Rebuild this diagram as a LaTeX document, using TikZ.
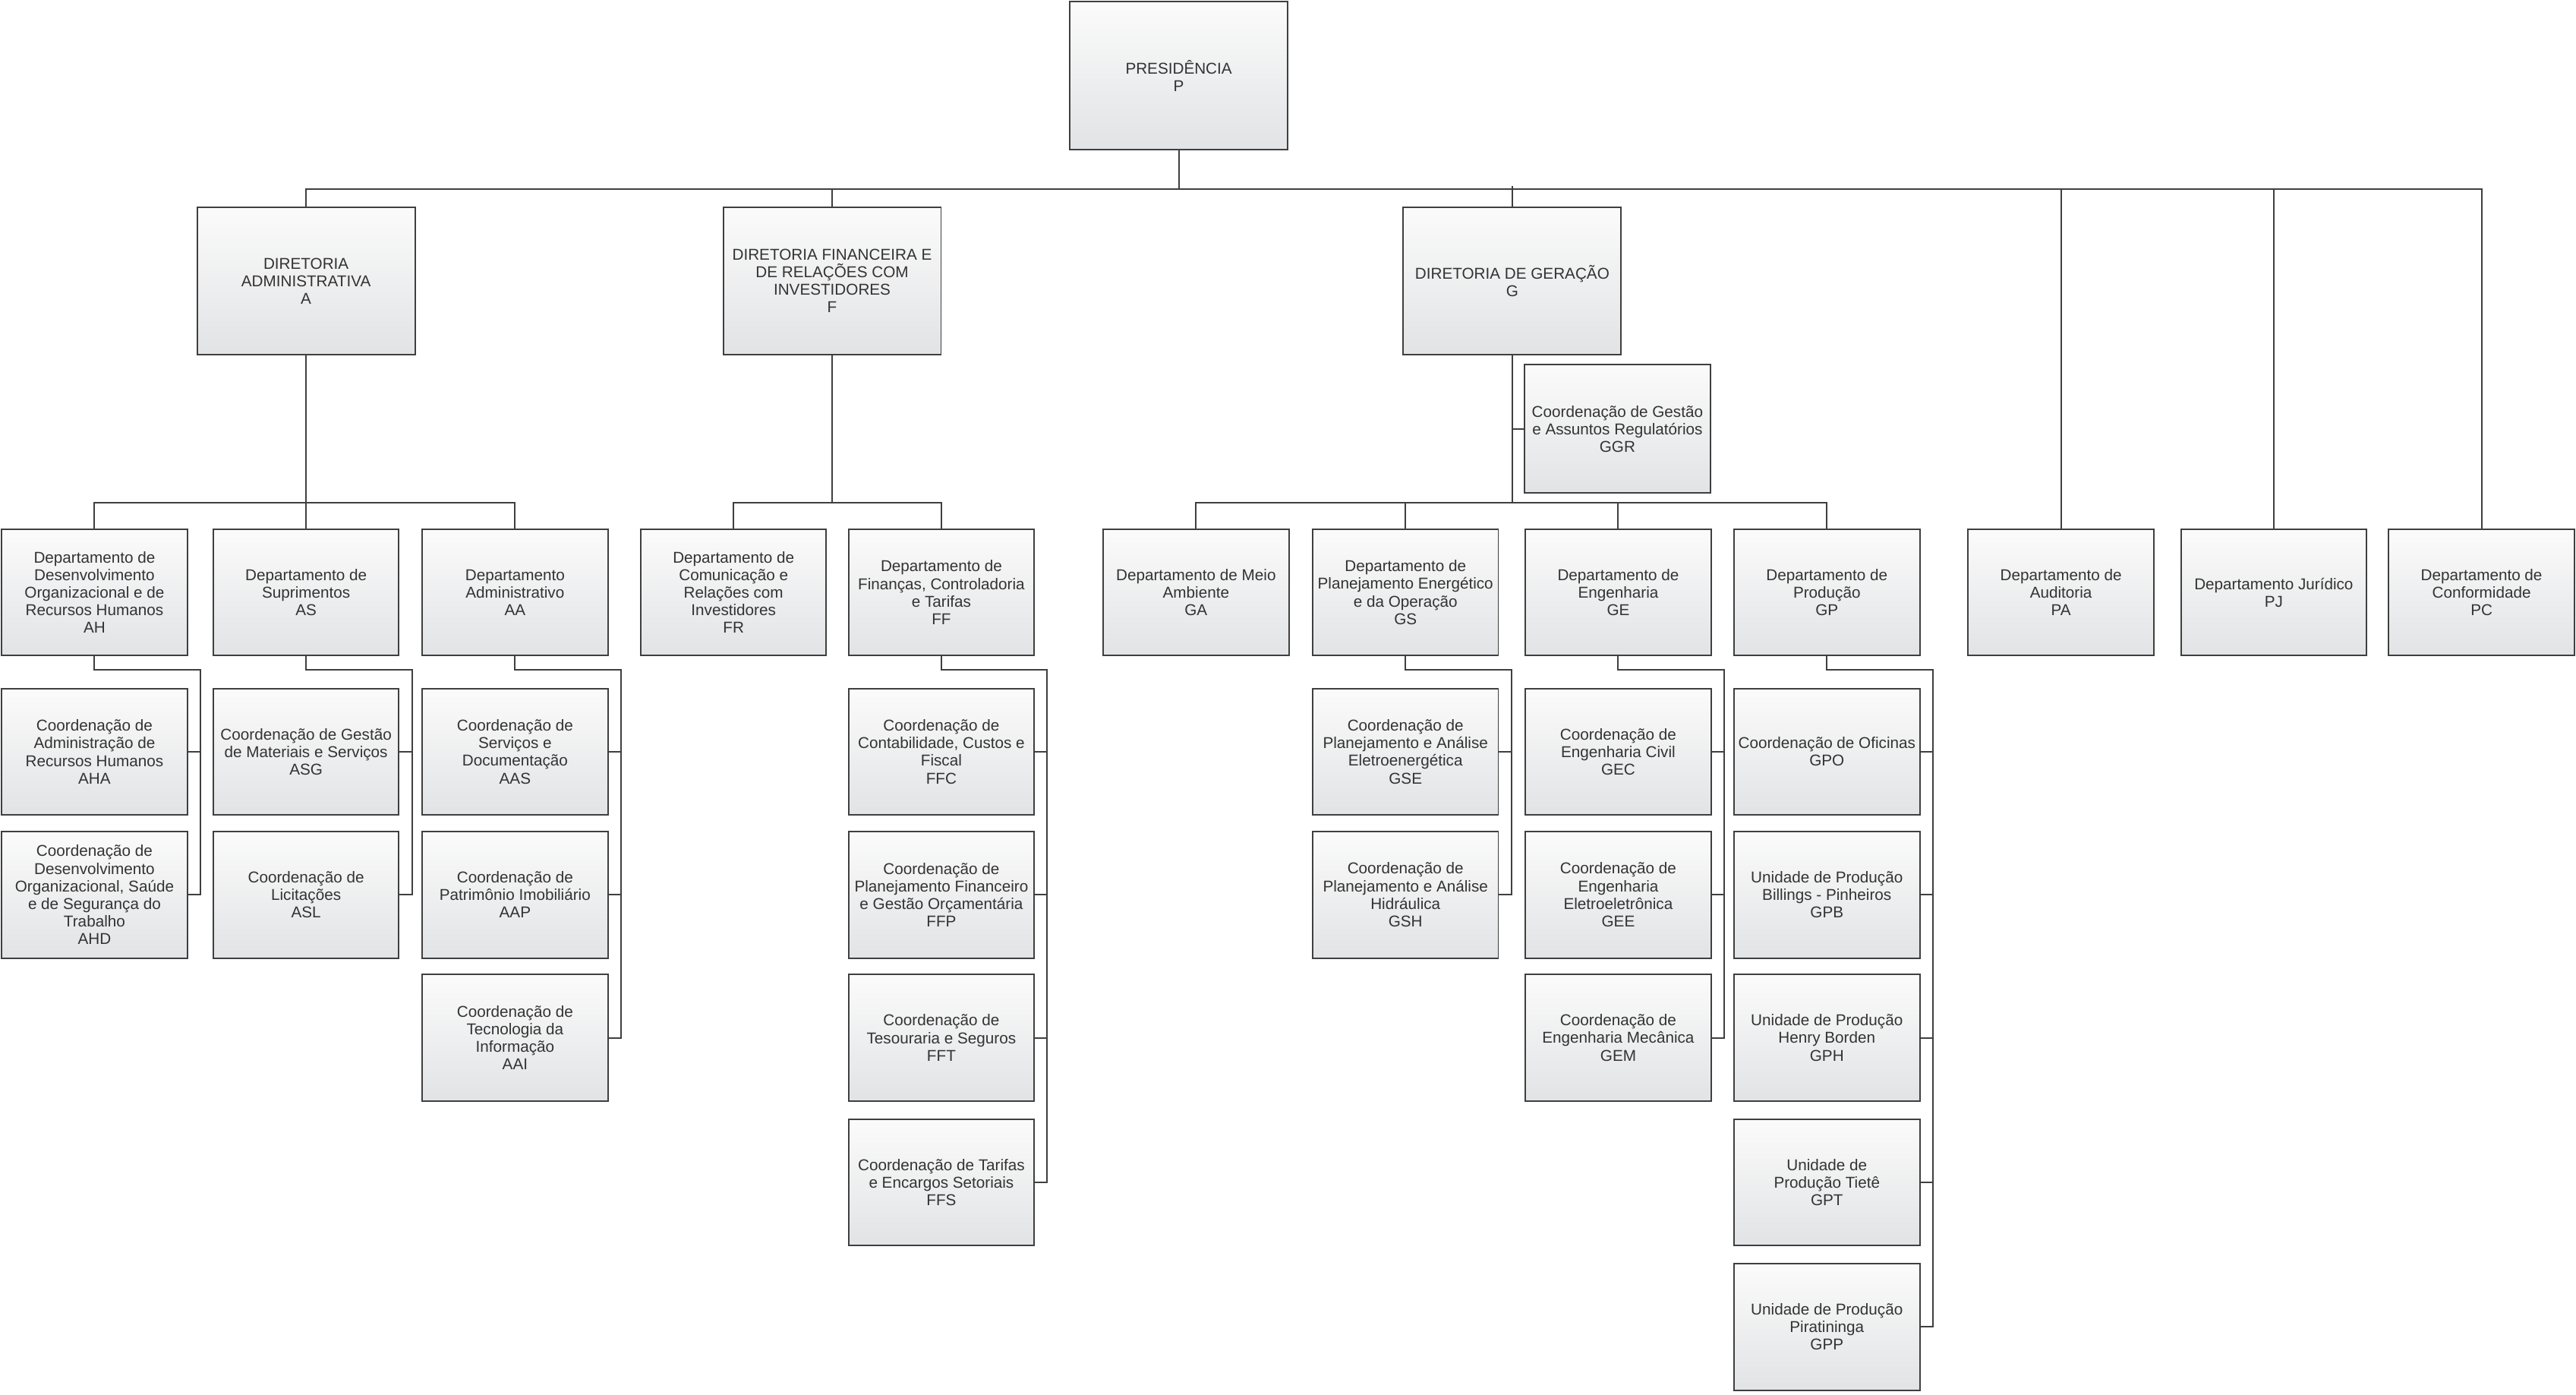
\documentclass[tikz,border=0pt]{standalone}
\usepackage{fontspec}
\setmainfont{Liberation Sans}
\usetikzlibrary{calc}

\definecolor{boxtop}{HTML}{FBFBFB}
\definecolor{boxbot}{HTML}{E2E3E5}
\definecolor{boxline}{HTML}{3F3F3F}
\definecolor{boxtext}{HTML}{333333}

\begin{document}
\begin{tikzpicture}[x=0.05cm, y=-0.05cm,
	box/.style = {draw=boxline, line width=1.3pt, top color=boxtop, bottom color=boxbot,
		minimum width=5.65cm, minimum height=3.85cm, inner sep=0pt, align=center,
		text=boxtext, font=\fontsize{13.6}{15.2}\selectfont},
	dir/.style = {box, minimum width=6.63cm, minimum height=4.5cm},
	link/.style = {draw=boxline, line width=1.3pt}]
	\useasboundingbox (0, 0) rectangle (1568, 848.5);

	\node[dir] (P) at (717.5, 46) {PRESIDÊNCIA\\P};

	\node[dir] (A) at (186.3, 171) {DIRETORIA\\ADMINISTRATIVA\\A};
	\node[dir] (F) at (506.5, 171) {DIRETORIA FINANCEIRA E\\DE RELAÇÕES COM\\INVESTIDORES\\F};
	\node[dir] (G) at (920.5, 171) {DIRETORIA DE GERAÇÃO\\G};

	\node[box, minimum height=3.9cm] (GGR) at (984.5, 261) {Coordenação de Gestão\\e Assuntos Regulatórios\\GGR};

	\node[box] (AH) at (57.5, 360.5) {Departamento de\\Desenvolvimento\\Organizacional e de\\Recursos Humanos\\AH};
	\node[box] (AS) at (186.3, 360.5) {Departamento de\\Suprimentos\\AS};
	\node[box] (AA) at (313.5, 360.5) {Departamento\\Administrativo\\AA};
	\node[box] (FR) at (446.5, 360.5) {Departamento de\\Comunicação e\\Relações com\\Investidores\\FR};
	\node[box] (FF) at (573, 360.5) {Departamento de\\Finanças, Controladoria\\e Tarifas\\FF};
	\node[box] (GA) at (728, 360.5) {Departamento de Meio\\Ambiente\\GA};
	\node[box] (GS) at (855.5, 360.5) {Departamento de\\Planejamento Energético\\e da Operação\\GS};
	\node[box] (GE) at (985, 360.5) {Departamento de\\Engenharia\\GE};
	\node[box] (GP) at (1112, 360.5) {Departamento de\\Produção\\GP};
	\node[box] (PA) at (1254.5, 360.5) {Departamento de\\Auditoria\\PA};
	\node[box] (PJ) at (1384, 360.5) {Departamento Jurídico\\PJ};
	\node[box] (PC) at (1510.5, 360.5) {Departamento de\\Conformidade\\PC};

	\node[box] (AHA) at (57.5, 457.5) {Coordenação de\\Administração de\\Recursos Humanos\\AHA};
	\node[box] (AHD) at (57.5, 544.5) {Coordenação de\\Desenvolvimento\\Organizacional, Saúde\\e de Segurança do\\Trabalho\\AHD};
	\node[box] (ASG) at (186.3, 457.5) {Coordenação de Gestão\\de Materiais e Serviços\\ASG};
	\node[box] (ASL) at (186.3, 544.5) {Coordenação de\\Licitações\\ASL};
	\node[box] (AAS) at (313.5, 457.5) {Coordenação de\\Serviços e\\Documentação\\AAS};
	\node[box] (AAP) at (313.5, 544.5) {Coordenação de\\Patrimônio Imobiliário\\AAP};
	\node[box] (AAI) at (313.5, 631.5) {Coordenação de\\Tecnologia da\\Informação\\AAI};
	\node[box] (FFC) at (573, 457.5) {Coordenação de\\Contabilidade, Custos e\\Fiscal\\FFC};
	\node[box] (FFP) at (573, 544.5) {Coordenação de\\Planejamento Financeiro\\e Gestão Orçamentária\\FFP};
	\node[box] (FFT) at (573, 631.5) {Coordenação de\\Tesouraria e Seguros\\FFT};
	\node[box] (FFS) at (573, 719.5) {Coordenação de Tarifas\\e Encargos Setoriais\\FFS};
	\node[box] (GSE) at (855.5, 457.5) {Coordenação de\\Planejamento e Análise\\Eletroenergética\\GSE};
	\node[box] (GSH) at (855.5, 544.5) {Coordenação de\\Planejamento e Análise\\Hidráulica\\GSH};
	\node[box] (GEC) at (985, 457.5) {Coordenação de\\Engenharia Civil\\GEC};
	\node[box] (GEE) at (985, 544.5) {Coordenação de\\Engenharia\\Eletroeletrônica\\GEE};
	\node[box] (GEM) at (985, 631.5) {Coordenação de\\Engenharia Mecânica\\GEM};
	\node[box] (GPO) at (1112, 457.5) {Coordenação de Oficinas\\GPO};
	\node[box] (GPB) at (1112, 544.5) {Unidade de Produção\\Billings - Pinheiros\\GPB};
	\node[box] (GPH) at (1112, 631.5) {Unidade de Produção\\Henry Borden\\GPH};
	\node[box] (GPT) at (1112, 719.5) {Unidade de\\Produção Tietê\\GPT};
	\node[box] (GPP) at (1112, 807.5) {Unidade de Produção\\Piratininga\\GPP};

	\coordinate (bus) at (0, 115);
	\coordinate (sub) at (0, 306);

	\draw[link] (P.south) -- (P.south |- bus);
	\draw[link] (A.north) |- (PC.north |- bus) -- (PC.north);
	\draw[link] (G.north) -- ($(G.north |- bus) + (0, -2)$);
	\foreach \n in {F, PA, PJ}
		\draw[link] (\n.north) -- (\n.north |- bus);

	\draw[link] (A.south) -- (AS.north);
	\draw[link] (AH.north) |- (AA.north |- sub) -- (AA.north);
	\draw[link] (F.south) -- (F.south |- sub);
	\draw[link] (FR.north) |- (FF.north |- sub) -- (FF.north);
	\draw[link] (G.south) -- (G.south |- sub);
	\draw[link] (GGR.west) -- (GGR.west -| G.south);
	\draw[link] (GA.north) |- (GP.north |- sub) -- (GP.north);
	\foreach \n in {GS, GE}
		\draw[link] (\n.north) -- (\n.north |- sub);

	\foreach \p/\kids in {AH/{AHA,AHD}, AS/{ASG,ASL}, AA/{AAS,AAP,AAI}, FF/{FFC,FFP,FFT,FFS},
		GS/{GSE,GSH}, GE/{GEC,GEE,GEM}, GP/{GPO,GPB,GPH,GPT,GPP}}
		\foreach \c in \kids
			\draw[link] (\c.east) -- ++(7.5, 0) |- ([yshift=-0.4cm]\p.south) -- (\p.south);
\end{tikzpicture}
\end{document}
